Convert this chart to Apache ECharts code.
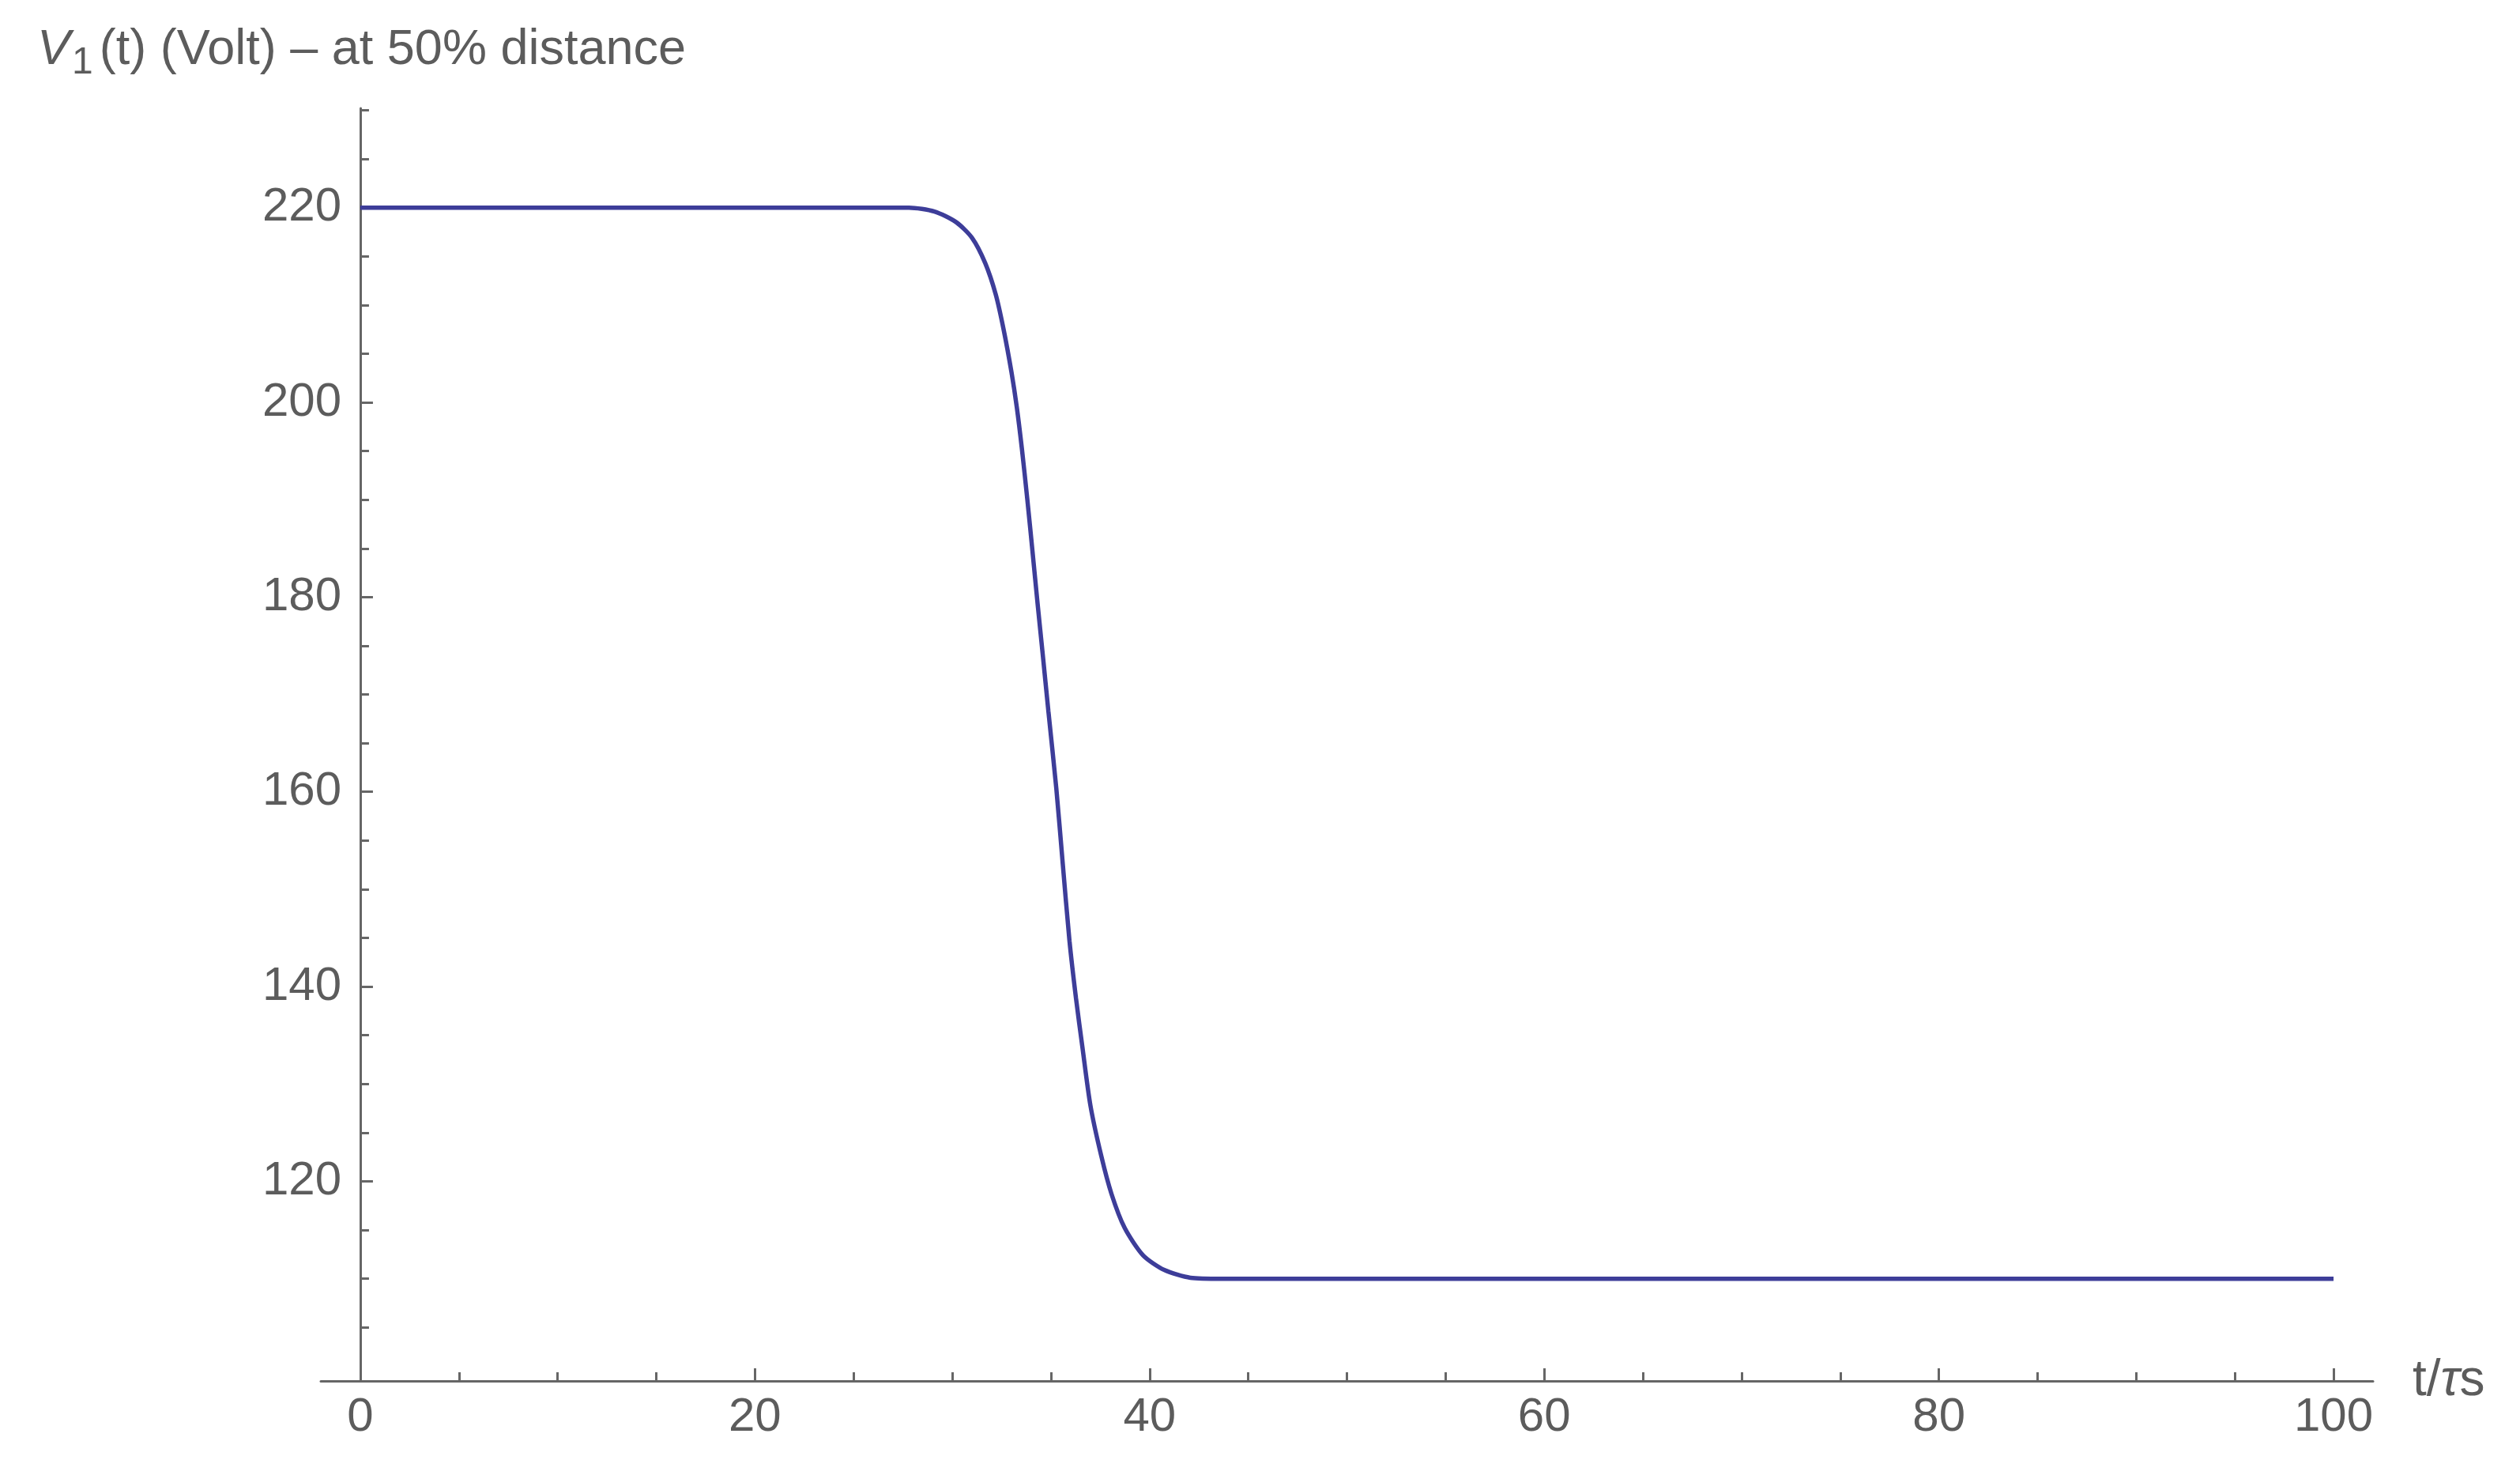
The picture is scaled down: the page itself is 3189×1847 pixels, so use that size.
<!DOCTYPE html>
<html>
<head>
<meta charset="utf-8">
<script src="https://cdn.jsdelivr.net/npm/echarts@6/dist/echarts.min.js"></script>
<style>
  html, body { margin: 0; padding: 0; background: #fff; }
  #chart { width: 3189px; height: 1847px; }
</style>
</head>
<body>
<div id="chart"></div>
<script>
// t/τs samples and V1(t)
const tValues = [0, 10, 20, 25, 27.8, 29.1, 30.2, 31.0, 31.67, 32.2, 32.6, 33.0, 33.27, 33.53, 33.8, 34.07,
  34.33, 34.6, 34.87, 35.27, 35.6, 35.94, 36.27, 36.6, 37.0, 37.54, 38.07, 38.74, 39.67, 40.74, 42.07, 43.67,
  46, 50, 60, 70, 80, 90, 100];
const vValues = [220, 220, 220, 220, 220, 219.6, 218.5, 216.9, 214.3, 211.1, 207.5, 203.1, 199.5, 195.2, 190.1, 184.6,
  179.2, 173.8, 168.3, 160.4, 152.6, 144.7, 138.8, 133.7, 127.8, 122.7, 118.7, 115.2, 112.4, 110.9, 110.1, 110.0,
  110, 110, 110, 110, 110, 110, 110];

const xMajorTicks = [0, 20, 40, 60, 80, 100];
const xMinorTicks = [5, 10, 15, 25, 30, 35, 45, 50, 55, 65, 70, 75, 85, 90, 95];
const yMajorTicks = [120, 140, 160, 180, 200, 220];
const yMinorTicks = [105, 110, 115, 125, 130, 135, 145, 150, 155, 165, 170, 175, 185, 190, 195, 205, 210, 215, 225, 230];

const axisColor = '#666666';
const textColor = '#5c5c5c';
const font = '"Liberation Sans", Arial, sans-serif';

const chart = echarts.init(document.getElementById('chart'));

const gridBox = { left: 406, right: 186, top: 137, bottom: 100, containLabel: false };
const xRange = { min: -2, max: 102 };
const yRange = { min: 99.5, max: 230.2 };

const titleTok = { fontSize: 63, color: textColor, fontFamily: font, fontWeight: 'normal', verticalAlign: 'top', lineHeight: 72 };

chart.setOption({
  backgroundColor: '#ffffff',
  animation: false,
  textStyle: { fontFamily: font },
  title: {
    left: 42,
    top: 27,
    text: '{v|V}{s|1}{n|(t) (Volt) – at 50% distance}',
    textStyle: {
      fontWeight: 'normal',
      rich: {
        v: Object.assign({}, titleTok, { fontStyle: 'italic' }),
        s: Object.assign({}, titleTok, { fontSize: 48, padding: [24, 8, 0, 2] }),
        n: titleTok
      }
    }
  },
  grid: [gridBox, Object.assign({}, gridBox)],
  xAxis: [
    {
      type: 'value', gridIndex: 0, ...xRange,
      axisLine: { onZero: false, lineStyle: { color: axisColor, width: 3 } },
      axisTick: { inside: true, length: 16, customValues: xMajorTicks, lineStyle: { color: axisColor, width: 3 } },
      axisLabel: { customValues: xMajorTicks, fontSize: 60, color: textColor, margin: 16, fontFamily: font },
      splitLine: { show: false },
      name: '{n|t/}{i|τ}{n|s}',
      nameLocation: 'end',
      nameGap: 50,
      nameTextStyle: {
        rich: {
          n: { fontSize: 64, color: textColor, fontFamily: font },
          i: { fontSize: 64, color: textColor, fontFamily: font, fontStyle: 'italic' }
        }
      }
    },
    {
      type: 'value', gridIndex: 1, ...xRange,
      axisLine: { show: false, onZero: false },
      axisTick: { inside: true, length: 11, customValues: xMinorTicks, lineStyle: { color: axisColor, width: 3 } },
      axisLabel: { show: false },
      splitLine: { show: false }
    }
  ],
  yAxis: [
    {
      type: 'value', gridIndex: 0, ...yRange,
      axisLine: { show: true, onZero: true, lineStyle: { color: axisColor, width: 3 } },
      axisTick: { show: true, inside: true, length: 16, customValues: yMajorTicks, lineStyle: { color: axisColor, width: 3 } },
      axisLabel: { customValues: yMajorTicks, fontSize: 60, color: textColor, margin: -26, fontFamily: font, padding: [0, 0, 14, 0] },
      splitLine: { show: false }
    },
    {
      type: 'value', gridIndex: 1, ...yRange,
      axisLine: { show: false, onZero: true },
      axisTick: { show: true, inside: true, length: 11, customValues: yMinorTicks, lineStyle: { color: axisColor, width: 3 } },
      axisLabel: { show: false },
      splitLine: { show: false }
    }
  ],
  series: [{
    type: 'line',
    xAxisIndex: 0,
    yAxisIndex: 0,
    data: tValues.map((t, i) => [t, vValues[i]]),
    showSymbol: false,
    smooth: 0.25,
    lineStyle: { color: '#3d3d99', width: 5.5 }
  }]
});
</script>
</body>
</html>
